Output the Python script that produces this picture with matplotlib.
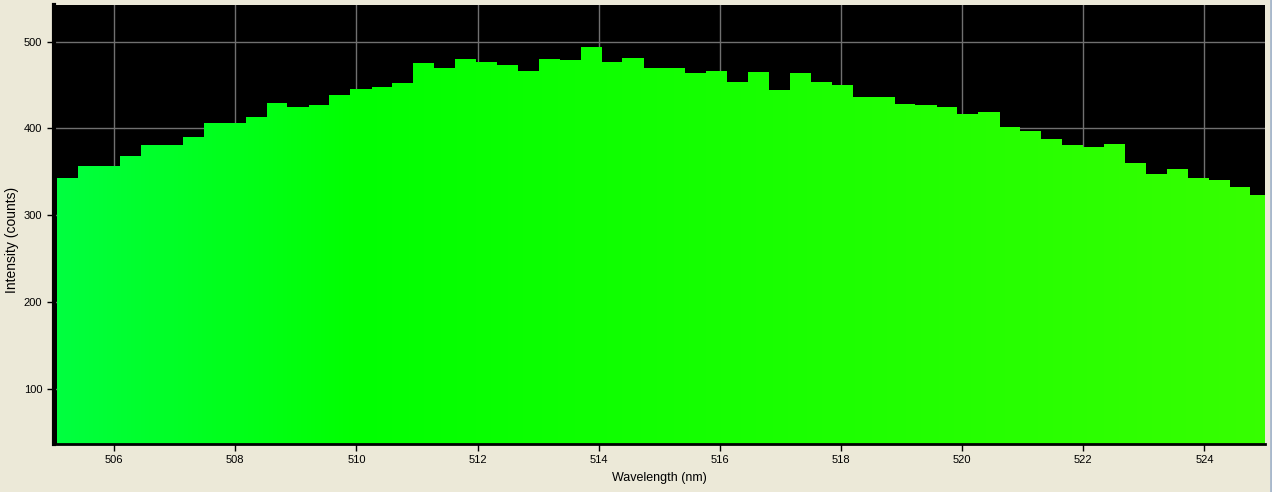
import numpy as np
import matplotlib
matplotlib.use("Agg")
import matplotlib.pyplot as plt
from matplotlib.colors import LinearSegmentedColormap

# spectrometer pixels (nm) and counts
wavelengths = [505.06, 505.41, 505.75, 506.10, 506.44, 506.79, 507.13, 507.48,
               507.83, 508.17, 508.52, 508.86, 509.21, 509.55, 509.90, 510.25,
               510.59, 510.94, 511.28, 511.63, 511.97, 512.32, 512.67, 513.01,
               513.36, 513.70, 514.05, 514.39, 514.74, 515.09, 515.43, 515.78,
               516.12, 516.47, 516.81, 517.16, 517.50, 517.85, 518.20, 518.54,
               518.89, 519.23, 519.58, 519.92, 520.27, 520.62, 520.96, 521.31,
               521.65, 522.00, 522.34, 522.69, 523.04, 523.38, 523.73, 524.07,
               524.42, 524.76]
counts = [343, 357, 357, 368, 381, 381, 390, 406, 406, 413, 429, 424.5,
          427, 438, 445, 447.5, 452, 475, 470, 479.5, 476, 473, 466, 479.5,
          478.5, 493.5, 476, 481, 469.5, 469.5, 463.5, 466, 453, 464.5, 444,
          463.5, 453, 449.5, 436, 436, 428, 427, 424.5, 416.5, 418.5, 401.5,
          397, 387.5, 381, 378.5, 382, 360, 347.5, 353, 343, 340.5, 332.5, 323]
last_edge = 525.11

x_ticks = [506, 508, 510, 512, 514, 516, 518, 520, 522, 524]
y_ticks = [100, 200, 300, 400, 500]

# green spectrum colours (505 nm bluish green -> 525 nm yellowish green)
spec = LinearSegmentedColormap.from_list(
    "spec", [(0.0, (0.0, 1.0, 0.25)), (0.25, (0.0, 1.0, 0.0)), (1.0, (0.214, 1.0, 0.0))])

bg = "#ECE9D8"
fig = plt.figure(figsize=(12.72, 4.92), dpi=100, facecolor=bg)
ax = fig.add_axes([53.5 / 1272, 1 - 444 / 492, (1265 - 53.5) / 1272, 439 / 492])
ax.set_facecolor("black")

xmin, xmax = 505, 525
ymin, ymax = 37, 542
ax.set_xlim(xmin, xmax)
ax.set_ylim(ymin, ymax)

xs = wavelengths + [last_edge]
ys = counts + [counts[-1]]
poly = ax.fill_between(xs, ys, ymin, step="post", facecolor="none", edgecolor="none")

grad = np.linspace(0, 1, 600).reshape(1, -1)
im = ax.imshow(grad, cmap=spec, aspect="auto", extent=[xmin, xmax, ymin, ymax],
               interpolation="bilinear", zorder=2)
im.set_clip_path(poly.get_paths()[0], ax.transData)

ax.set_xticks(x_ticks)
ax.set_yticks(y_ticks)
ax.grid(True, color="#707070", linewidth=1.0, zorder=0)
ax.set_axisbelow(True)

for side in ["top", "right"]:
    ax.spines[side].set_visible(False)
ax.spines["left"].set_linewidth(3)
ax.spines["bottom"].set_linewidth(2)
ax.tick_params(direction="out", length=5, width=1, colors="black",
               labelsize=8, pad=3)

font = "Liberation Sans"
for lab in ax.get_xticklabels() + ax.get_yticklabels():
    lab.set_fontfamily(font)
ax.set_xlabel("Wavelength (nm)", fontsize=9, family=font, labelpad=5)
ax.set_ylabel("Intensity (counts)", fontsize=10, family=font)
ax.yaxis.set_label_coords(-0.0285, 0.465)

fig.add_artist(plt.Line2D([1270.5 / 1272] * 2, [0, 1], color="#A8B8CC", lw=2))

fig.savefig("out.png", dpi=100, facecolor=bg)
